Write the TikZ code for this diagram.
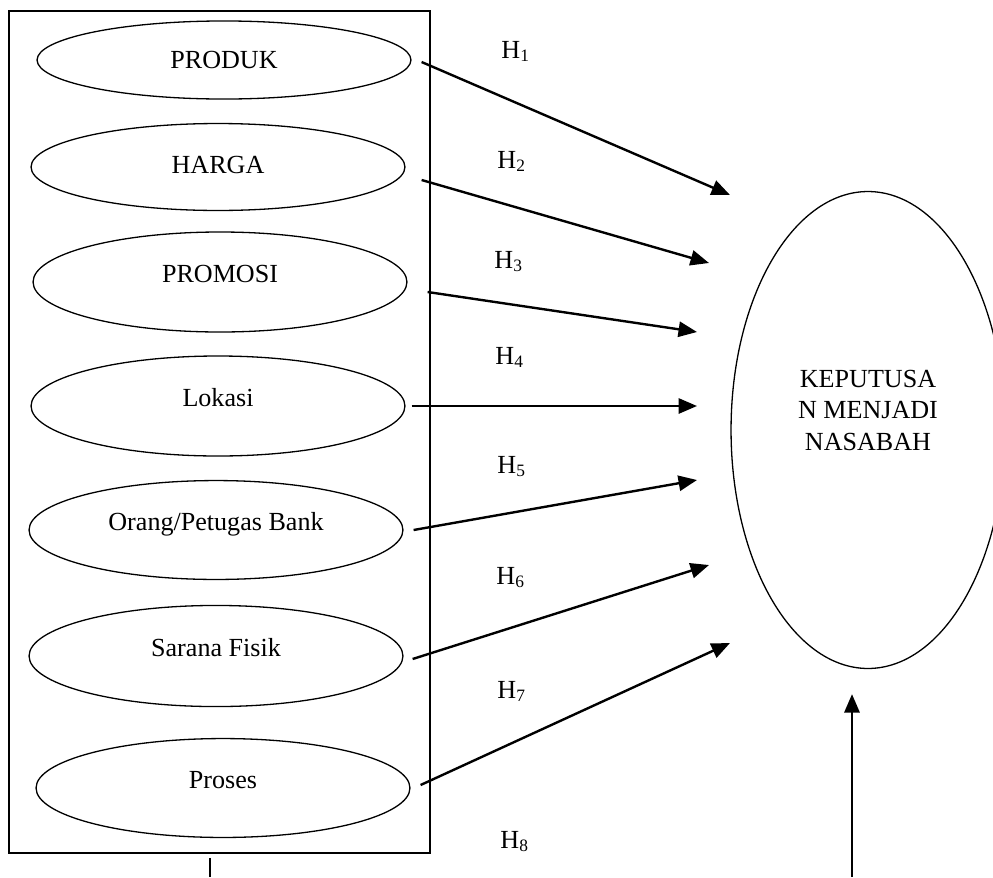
\documentclass[tikz,border=0pt]{standalone}
\usepackage{fontspec}
\setmainfont{Liberation Serif}
\usetikzlibrary{arrows.meta, shapes.geometric}

\tikzset{
    varNode/.style={draw, ellipse, line width=0.6pt, minimum width=172pt, inner sep=0pt, text height=8pt, text depth=7.5pt},
    arr/.style={line width=1.1pt, -{Triangle[length=8.5pt,width=7pt]}}
}

\begin{document}
\begin{tikzpicture}[x=0.46pt, y=-0.46pt, font=\fontsize{12}{14.3}\selectfont]
    % Page frame
    \useasboundingbox (0,0) rectangle (993,877);
    \clip (0,0) rectangle (993,877);

    % Box round the independent variables
    \node[draw, line width=0.75pt, minimum width=193.7pt, minimum height=387.3pt, inner sep=0pt] (box) at (219.5,432) {};

    % Independent variables
    \node[varNode, minimum height=35.9pt, text depth=0.1pt] (produk) at (224,60) {PRODUK};
    \node[varNode, minimum height=40pt, text depth=1.9pt] (harga) at (218,167) {HARGA};
    \node[varNode, minimum height=46pt] (promosi) at (220,282) {PROMOSI};
    \node[varNode, minimum height=46pt] (lokasi) at (218,406) {Lokasi};
    \node[varNode, minimum height=45.5pt] (orang) at (216,530) {Orang/Petugas Bank};
    \node[varNode, minimum height=46.5pt] (sarana) at (216,656) {Sarana Fisik};
    \node[varNode, minimum height=45.5pt] (proses) at (223,788) {Proses};

    % Dependent variable
    \node[draw, ellipse, line width=0.6pt, minimum width=126pt, minimum height=219.4pt] (kep) at (868,430) {};
    \node[align=center] (kepText) at ([yshift=9pt]kep.center) {KEPUTUSA\\N MENJADI\\NASABAH};

    % Start and end points of the arrows
    \coordinate (s1) at ([shift={(10,2)}]produk.east);
    \coordinate (s2) at ([shift={(16,13)}]harga.east);
    \coordinate (s3) at ([shift={(20,10)}]promosi.east);
    \coordinate (s4) at ([shift={(6,0)}]lokasi.east);
    \coordinate (s5) at ([shift={(10,0)}]orang.east);
    \coordinate (s6) at ([shift={(9,3)}]sarana.east);
    \coordinate (s7) at ([shift={(10,-3)}]proses.east);
    \coordinate (t1) at (730,195);
    \coordinate (t2) at (709,263);
    \coordinate (t3) at (697,332);
    \coordinate (t4) at (697,406);
    \coordinate (t5) at (697,480);
    \coordinate (t6) at (709,565);
    \coordinate (t7) at (730,643);

    % Draw arrows H1 to H7
    \foreach \i in {1,...,7}
        \draw[arr] (s\i) -- (t\i);

    % Hypothesis labels
    \foreach \n/\x/\y in {1/501/58, 2/497/168, 3/494/268, 4/495/364, 5/497/473, 6/496/584, 7/497/698, 8/500/848}
        \node[anchor=base west, inner sep=0pt] (h\n) at (\x,\y) {H\textsubscript{\n}};

    % H8 from the box to the dependent variable
    \coordinate (boxLow) at (210,877);
    \coordinate (kepLow) at (852,877);
    \draw[line width=0.5pt] ([shift={(-9.5,4)}]box.south) -- (boxLow);
    \draw[arr] (kepLow) -- ([shift={(-16,25)}]kep.south);

\end{tikzpicture}
\end{document}
